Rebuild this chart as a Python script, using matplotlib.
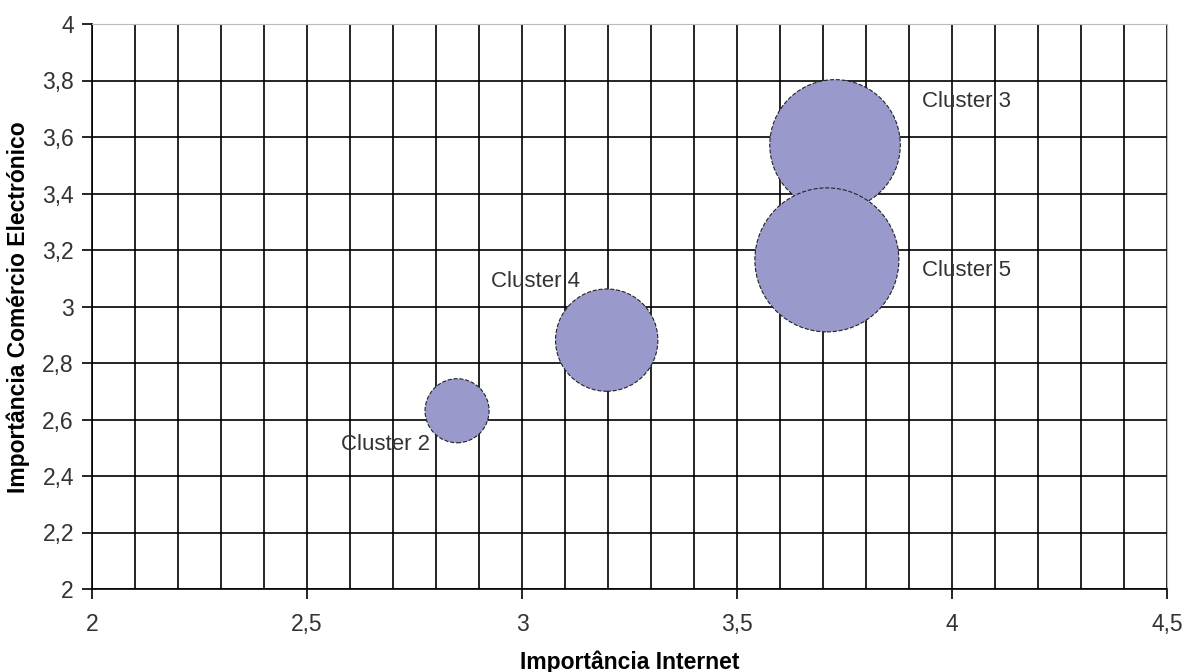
import numpy as np
import matplotlib.pyplot as plt

plt.rcParams['font.family'] = ['Liberation Sans', 'DejaVu Sans']

# cluster data
clusters = ['Cluster 2', 'Cluster 4', 'Cluster 3', 'Cluster 5']
internet = [2.849, 3.197, 3.728, 3.709]
comercio = [2.631, 2.881, 3.572, 3.165]
bubble_size = [20, 51, 83, 101]

# label positions (left edge, vertical centre) in data units
label_x = [2.578, 2.927, 3.93, 3.93]
label_y = [2.513, 3.088, 3.724, 3.127]

DPI = 100
fig = plt.figure(figsize=(11.86, 6.72), dpi=DPI)
ax = fig.add_axes([92 / 1186, 1 - 589 / 672, (1167 - 92) / 1186, (589 - 24) / 672])

# scale bubbles so the largest has a radius of ~72 px
max_r_pt = 72 * 72 / DPI
sizes = np.array(bubble_size) / max(bubble_size) * (2 * max_r_pt) ** 2

ax.scatter(internet, comercio, s=sizes, color='#9999cc', edgecolors='#222222',
           linewidths=0.8, linestyle='--', zorder=3)

for name, lx, ly in zip(clusters, label_x, label_y):
    ax.text(lx, ly, name, fontsize=16, color='#333333', va='center', ha='left', zorder=4)

ax.set_xlim(2, 4.5)
ax.set_ylim(2, 4)
ax.set_xticks(np.arange(2, 4.51, 0.5))
ax.set_xticks(np.arange(2, 4.51, 0.1), minor=True)
ax.set_yticks(np.arange(2, 4.01, 0.2))
ax.set_xticklabels(['2', '2,5', '3', '3,5', '4', '4,5'])
ax.set_yticklabels([f'{v:.1f}'.replace('.', ',').replace(',0', '') for v in np.arange(2, 4.01, 0.2)])

ax.grid(True, which='both', axis='x', color='black', linewidth=1.2, zorder=0)
ax.grid(True, which='major', axis='y', color='black', linewidth=1.2, zorder=0)
ax.set_axisbelow(True)

ax.tick_params(which='major', direction='out', length=7, width=1.2, labelsize=16.5,
               labelcolor='#333333')
ax.tick_params(axis='x', which='major', pad=10)
ax.tick_params(axis='y', which='major', pad=6)
ax.tick_params(which='minor', length=0)

for side in ['top', 'right']:
    ax.spines[side].set_color('#bbbbbb')
for side in ['left', 'bottom']:
    ax.spines[side].set_color('black')
    ax.spines[side].set_linewidth(1.2)

ax.set_xlabel('Importância Internet', fontsize=16.5, fontweight='bold', va='center')
ax.set_ylabel('Importância Comércio Electrónico', fontsize=16.5, fontweight='bold', va='center')
ax.xaxis.set_label_coords(0.5 + (630 - 629.5) / 1075, (589 - 662) / 565)
ax.yaxis.set_label_coords((18 - 92) / 1075, 0.5 + (306 - 306.5) / 565)

fig.savefig('out.png', dpi=DPI)
